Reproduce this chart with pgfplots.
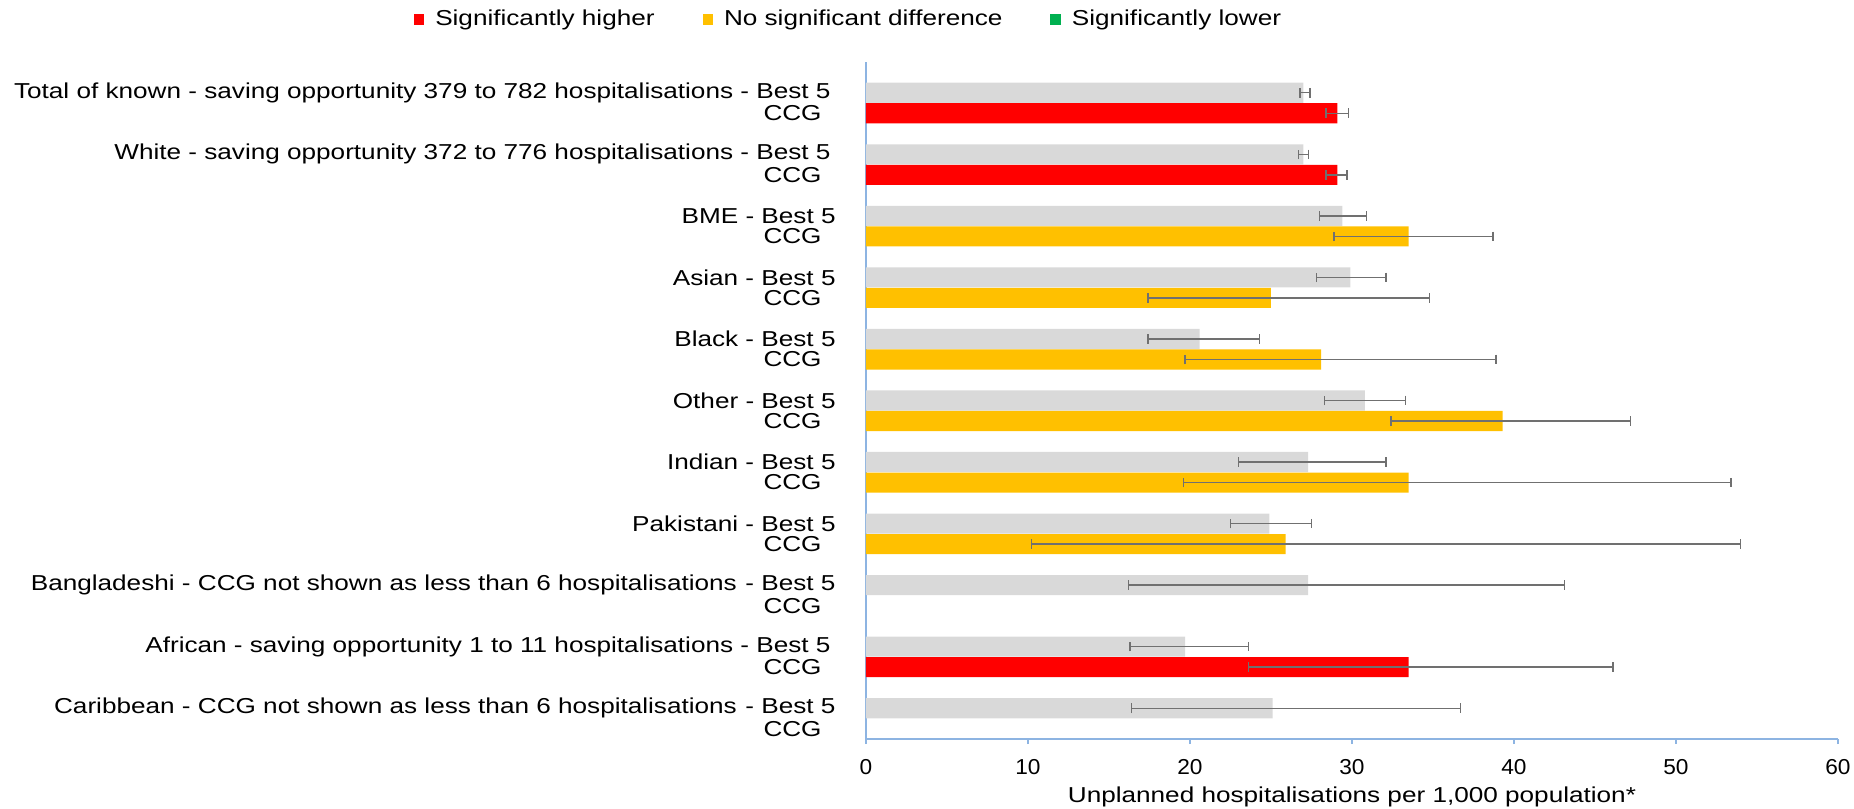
\documentclass[border=0pt]{standalone}
\usepackage{fontspec}
\setmainfont{Liberation Sans}[FakeStretch=1.21]
\newfontfamily\numfont{Liberation Sans}[FakeStretch=1.05]
\usepackage{pgfplots}
\usepackage{pgfplotstable}
\pgfplotsset{compat=1.18}
\definecolor{bestgrey}{HTML}{D9D9D9}
\definecolor{sigred}{HTML}{FF0000}
\definecolor{noyellow}{HTML}{FFC000}
\definecolor{siggreen}{HTML}{00B050}
\definecolor{axisblue}{HTML}{8DB4E2}
\definecolor{errgrey}{HTML}{707070}

% y: position of bar, val: rate, lo/hi: confidence limits
\pgfplotstableread{
y val lo hi
31.5 27.0 26.8 27.4
28.5 27.0 26.7 27.3
25.5 29.4 28.0 30.9
22.5 29.9 27.8 32.1
19.5 20.6 17.4 24.3
16.5 30.8 28.3 33.3
13.5 27.3 23.0 32.1
10.5 24.9 22.5 27.5
7.5 27.3 16.2 43.1
4.5 19.7 16.3 23.6
1.5 25.1 16.4 36.7
}\bestfive

\pgfplotstableread{
y val lo hi
30.5 29.1 28.4 29.8
27.5 29.1 28.4 29.7
3.5 33.5 23.6 46.1
}\ccgred

\pgfplotstableread{
y val lo hi
24.5 33.5 28.9 38.7
21.5 25.0 17.4 34.8
18.5 28.1 19.7 38.9
15.5 39.3 32.4 47.2
12.5 33.5 19.6 53.4
9.5 25.9 10.2 54.0
}\ccgyellow

\newcommand{\lf}{\fontsize{10.8}{12}\selectfont}
\newcommand{\cg}{CCG\rule{7pt}{0pt}}
\newcommand{\lgap}{\rule{2.5pt}{0pt}}

\begin{document}
\begin{tikzpicture}
\begin{axis}[
  name=ax,
  scale only axis,
  width=486pt, height=338.5pt,
  xmin=0, xmax=60, ymin=0, ymax=33,
  xtick={0,10,...,60},
  ytick={0.5,1.5,3.5,4.5,6.5,7.5,9.5,10.5,12.5,13.5,15.5,16.5,18.5,19.5,21.5,22.5,24.5,25.5,27.5,28.5,30.5,31.5},
  yticklabels={\cg,
    Caribbean - CCG not shown as less than 6 hospitalisations\hspace{4.3pt}- Best 5,
    \cg,
    African - saving opportunity 1 to 11 hospitalisations - Best 5\lgap,
    \cg,
    Bangladeshi - CCG not shown as less than 6 hospitalisations\hspace{4.3pt}- Best 5,
    \cg, Pakistani - Best 5,
    \cg, Indian - Best 5,
    \cg, Other - Best 5,
    \cg, Black - Best 5,
    \cg, Asian - Best 5,
    \cg, BME - Best 5,
    \cg, White - saving opportunity 372 to 776 hospitalisations - Best 5\lgap,
    \cg, Total of known - saving opportunity 379 to 782 hospitalisations - Best 5\lgap},
  axis x line*=bottom,
  axis y line*=left,
  axis line style={axisblue, line width=0.6pt},
  x tick style={axisblue, line width=0.6pt},
  tick align=outside,
  major tick length=2.5pt,
  y tick style={draw=none},
  /pgf/number format/assume math mode=true,
  yticklabel style={font=\lf, anchor=east, inner sep=0pt, xshift=-12.5pt},
  xticklabel style={font=\lf\numfont, anchor=center, yshift=-11.5pt},
  xlabel={Unplanned hospitalisations per 1,000 population*},
  xlabel style={font=\lf, at={(axis description cs:0.5,-0.0852)}, anchor=center},
  legend columns=-1,
  legend style={draw=none, fill=none, font=\lf, anchor=center,
    at={(-0.017,1.063)},
    /tikz/every odd column/.append style={column sep=3.5pt},
    /tikz/every even column/.append style={column sep=22pt}},
  legend image code/.code={\fill[#1, draw=none] (0pt,-2.6pt) rectangle (5.2pt,2.6pt);},
  error bars/x dir=both,
  error bars/x explicit,
  error bars/error mark=|,
  error bars/error bar style={draw=errgrey, line width=0.7pt},
  error bars/error mark options={draw=errgrey, line width=0.7pt, mark size=2.4pt},
]
\addplot[xbar, bar shift=0pt, bar width=0.98, fill=bestgrey, draw=none, forget plot]
  table[x=val, y=y, x error plus expr=\thisrow{hi}-\thisrow{val}, x error minus expr=\thisrow{val}-\thisrow{lo}] {\bestfive};
\addplot[xbar, bar shift=0pt, bar width=0.98, fill=sigred, draw=none]
  table[x=val, y=y, x error plus expr=\thisrow{hi}-\thisrow{val}, x error minus expr=\thisrow{val}-\thisrow{lo}] {\ccgred};
\addlegendentry{Significantly higher}
\addplot[xbar, bar shift=0pt, bar width=0.98, fill=noyellow, draw=none]
  table[x=val, y=y, x error plus expr=\thisrow{hi}-\thisrow{val}, x error minus expr=\thisrow{val}-\thisrow{lo}] {\ccgyellow};
\addlegendentry{No significant difference}
\addlegendimage{fill=siggreen, draw=none}
\addlegendentry{Significantly lower}
\end{axis}
\pgfresetboundingbox
\path[use as bounding box] ([shift={(-433pt,-35pt)}]ax.south west) rectangle ([shift={(494pt,369.5pt)}]ax.south west);
\end{tikzpicture}
\end{document}
